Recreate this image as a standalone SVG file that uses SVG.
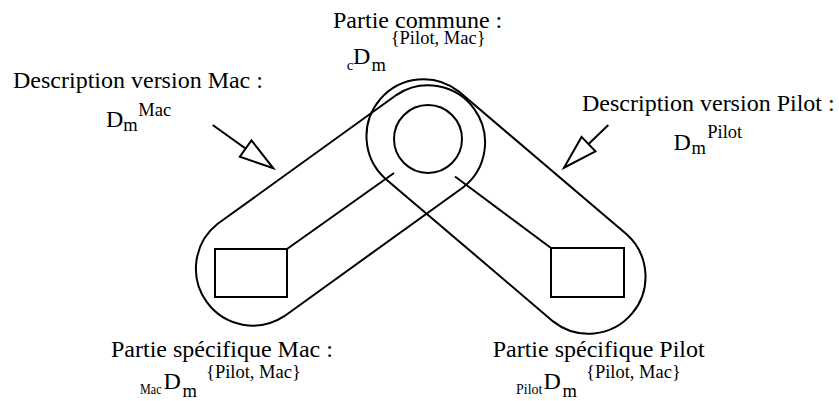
<svg xmlns="http://www.w3.org/2000/svg" width="839" height="401" viewBox="0 0 839 401">
<style>
  .ln { fill: none; stroke: #000; stroke-width: 2; }
  .t { font-family: "Liberation Serif", "Times New Roman", serif; fill: #000; }
  .big { font-size: 24px; }
  .sm { font-size: 18.5px; }
  .xs { font-size: 15px; }
</style>
<defs>
  <marker id="openHead" markerUnits="userSpaceOnUse" markerWidth="40" markerHeight="26" viewBox="-2 -2 40 26" refX="34" refY="10" orient="auto" overflow="visible">
    <path d="M0,0 L34,10 L0,20 Z" fill="#fff" stroke="#000" stroke-width="2" stroke-linejoin="miter"/>
  </marker>
</defs>
<rect width="839" height="401" fill="#fff"/>

<g id="desc-mac">
  <path class="ln" d="M217.7,223.8 L396.7,94.8 A57,57 0 0 1 463.3,187.2 L284.3,316.2 A57,57 0 0 1 217.7,223.8 Z"/>
  <text class="t big" x="13" y="88">Description version Mac :</text>
  <text class="t"><tspan class="big" x="106" y="126.5">D</tspan><tspan class="sm" x="123.3" y="130.5">m</tspan><tspan class="sm" x="138.3" y="116">Mac</tspan></text>
</g>

<g id="desc-pilot">
  <path class="ln" d="M385.1,178.4 A57,57 0 0 1 458.9,91.6 L626.9,234.6 A57,57 0 0 1 553.1,321.4 Z"/>
  <text class="t big" x="582" y="111">Description version Pilot :</text>
  <text class="t"><tspan class="big" x="673.5" y="149.5">D</tspan><tspan class="sm" x="691.5" y="153.5">m</tspan><tspan class="sm" x="707.3" y="138">Pilot</tspan></text>
</g>

<g id="partie-commune">
  <circle class="ln" cx="428" cy="139" r="34"/>
  <text class="t big" x="333" y="27.5">Partie commune :</text>
  <text class="t"><tspan class="xs" x="346.7" y="70">c</tspan><tspan class="big" x="353" y="64">D</tspan><tspan class="sm" x="371.5" y="71">m</tspan><tspan class="sm" x="390.7" y="43.5">{Pilot, Mac}</tspan></text>
</g>

<g id="partie-mac">
  <rect class="ln" x="215" y="249" width="72" height="48"/>
  <text class="t big" x="111" y="357">Partie spécifique Mac :</text>
  <text class="t"><tspan class="xs" x="140" y="394" textLength="21.5" lengthAdjust="spacingAndGlyphs">Mac</tspan><tspan class="big" x="163.5" y="388.5">D</tspan><tspan class="sm" x="182.5" y="396.5">m</tspan><tspan class="sm" x="206" y="378">{Pilot, Mac}</tspan></text>
</g>

<g id="partie-pilot">
  <rect class="ln" x="551" y="248" width="73" height="49"/>
  <text class="t big" x="492.7" y="357">Partie spécifique Pilot</text>
  <text class="t"><tspan class="xs" x="516" y="394" textLength="26.5" lengthAdjust="spacingAndGlyphs">Pilot</tspan><tspan class="big" x="543.5" y="388.5">D</tspan><tspan class="sm" x="562.5" y="396.5">m</tspan><tspan class="sm" x="586" y="378">{Pilot, Mac}</tspan></text>
</g>

<g id="connectors">
  <line class="ln" x1="287" y1="249" x2="394" y2="173"/>
  <line class="ln" x1="455" y1="176.5" x2="551" y2="248"/>
  <line class="ln" x1="212.7" y1="125" x2="273.3" y2="168.3" marker-end="url(#openHead)"/>
  <line class="ln" x1="608.3" y1="125" x2="564" y2="167.7" marker-end="url(#openHead)"/>
</g>
</svg>
